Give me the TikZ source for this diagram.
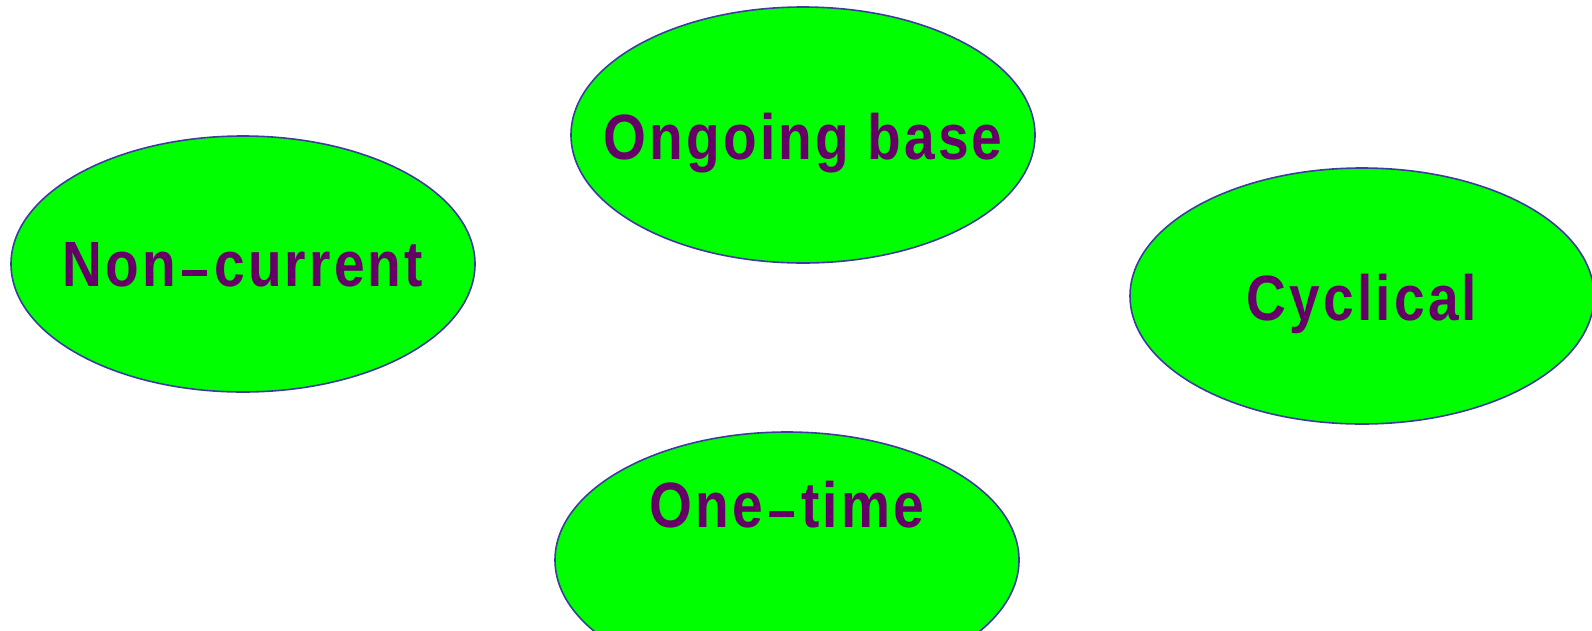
\documentclass[tikz,border=0pt]{standalone}
\usepackage{fontspec}
\setmainfont{Liberation Sans}
\newfontfamily\labelfont[FakeStretch=0.86, LetterSpace=5]{Liberation Sans Bold}
\usetikzlibrary{shapes.geometric}
\definecolor{fillgreen}{HTML}{00FF00}
\definecolor{rimblue}{HTML}{3C3CA0}
\definecolor{labelpurple}{HTML}{660066}
% long, low dash used inside the labels
\newcommand\longdash{\hspace{6pt}\rule[10.5pt]{25pt}{5.5pt}\hspace{7pt}}
\tikzset{
  blob/.style={ellipse, draw=rimblue, line width=1.6pt, fill=fillgreen,
    minimum width=464pt, minimum height=256pt, inner sep=0pt},
  caption/.style={anchor=base, text=labelpurple, inner sep=0pt,
    font=\labelfont\fontsize{64}{70}\selectfont}
}
\begin{document}
\begin{tikzpicture}[x=1pt, y=-1pt]
  \useasboundingbox (0,0) rectangle (1592,630);
  % the four categories
  \node[blob] (noncur) at (243,264) {};
  \node[blob] (ongoing) at (803,135) {};
  \node[blob] (cyclic) at (1362,296) {};
  \node[blob] (onetime) at (787,560) {};
  % their labels
  \node[caption] (noncurT) at ([yshift=-22pt]noncur.center) {Non\longdash current};
  \node[caption] (ongoingT) at ([yshift=-24pt]ongoing.center) {Ongoing base};
  \node[caption] (cyclicT) at ([yshift=-24pt]cyclic.center) {Cyclical};
  \node[caption] (onetimeT) at ([yshift=33pt]onetime.center) {One\longdash time};
\end{tikzpicture}
\end{document}
